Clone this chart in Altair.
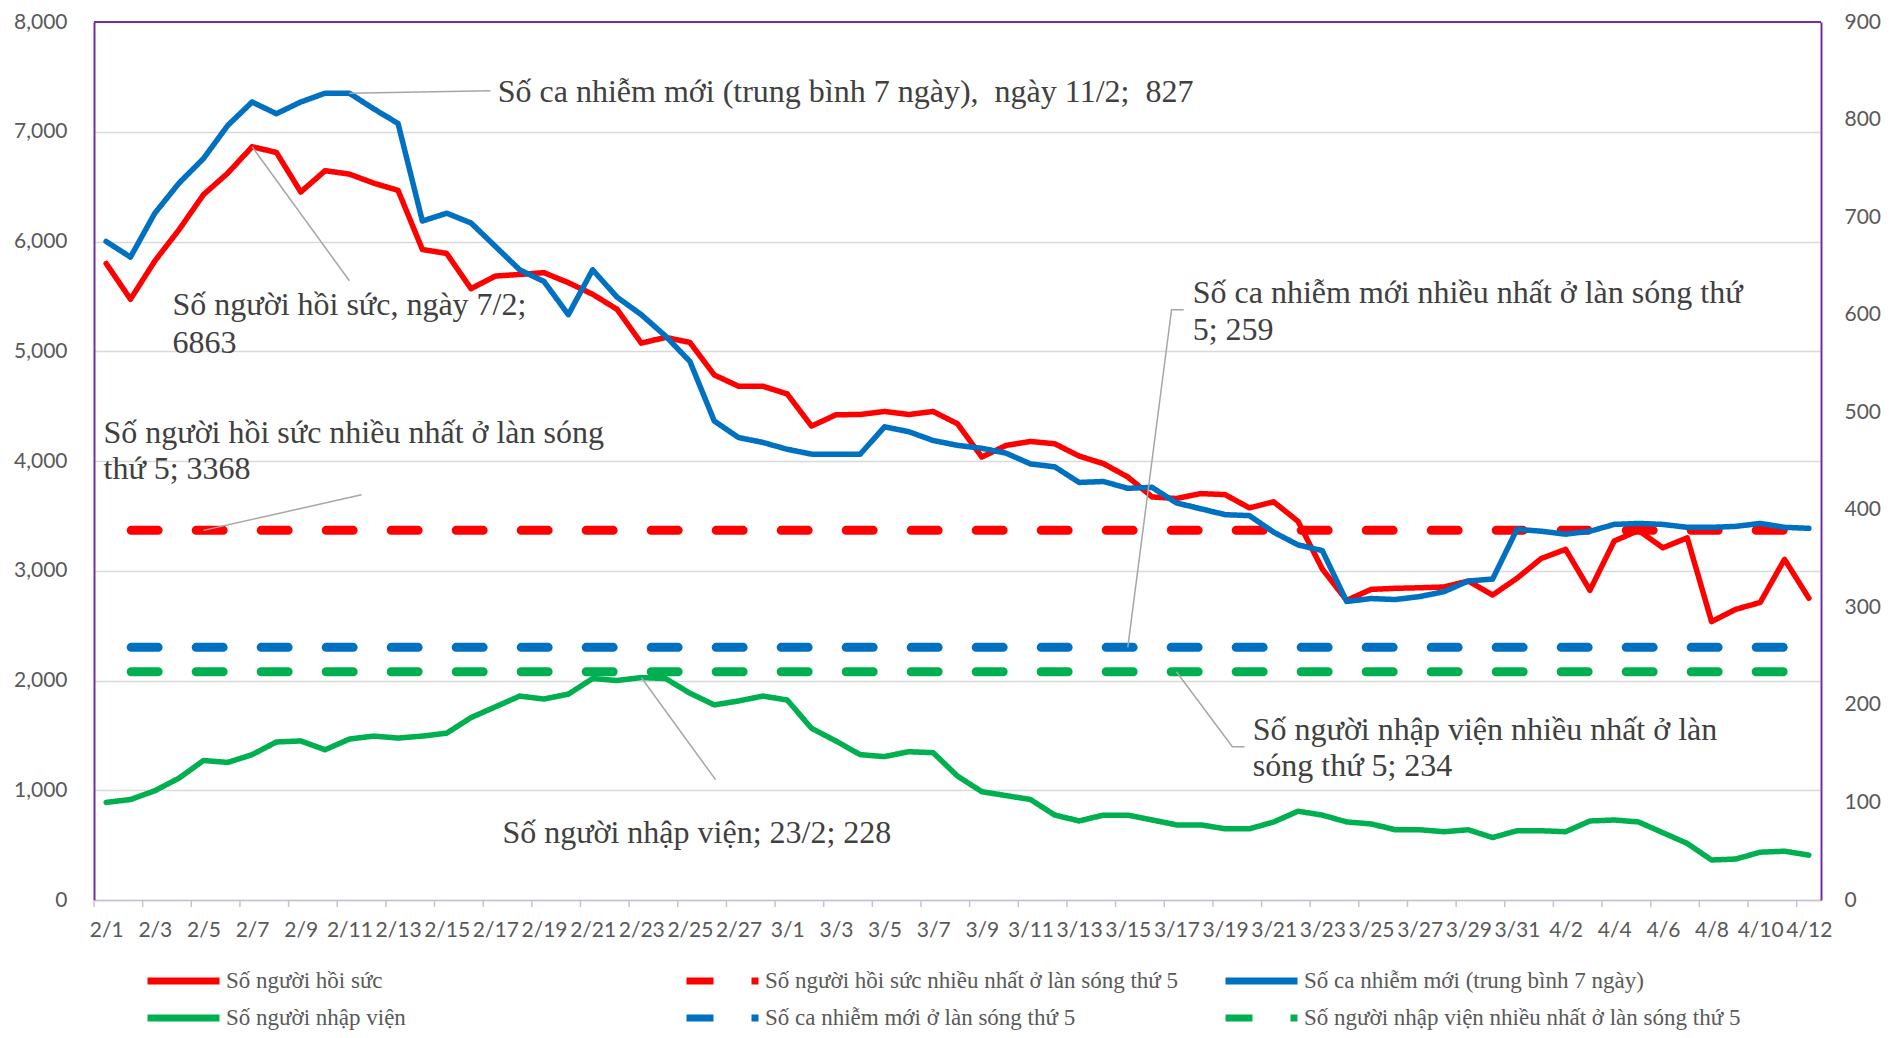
import json
import altair as alt
import pandas as pd

# ---------------- data ----------------
DATES = [f"{d.month}/{d.day}" for d in pd.date_range("2022-02-01", "2022-04-12")]

# Số người hồi sức (left axis)
ICU = [5800, 5474, 5822, 6109, 6427, 6623, 6863, 6811, 6451, 6645,
       6614, 6532, 6466, 5927, 5891, 5570, 5685, 5700, 5716, 5625,
       5519, 5383, 5074, 5126, 5080, 4784, 4681, 4681, 4611, 4318,
       4421, 4424, 4451, 4424, 4451, 4339, 4036, 4142, 4178, 4157,
       4045, 3976, 3855, 3673, 3658, 3703, 3694, 3573, 3628, 3450,
       3015, 2730, 2830, 2840, 2845, 2852, 2906, 2779, 2931, 3112,
       3195, 2822, 3271, 3367, 3209, 3300, 2537, 2649, 2711, 3104,
       2750]

# Số ca nhiễm mới (trung bình 7 ngày) (right axis)
CASES = [675, 659, 704, 735, 760, 794, 818, 806, 818, 827,
         827, 811, 796, 696, 704, 694, 670, 646, 634, 600,
         646, 618, 600, 578, 552, 491, 474, 469, 462, 457,
         457, 457, 485, 480, 471, 466, 463, 458, 447, 444,
         428, 429, 422, 423, 407, 401, 395, 394, 377, 364,
         358, 306, 309, 308, 311, 316, 327, 329, 380, 378,
         375, 378, 385, 386, 385, 382, 382, 383, 386, 382,
         381]

# Số người nhập viện (right axis)
HOSP = [100, 103, 112, 125, 143, 141, 149, 162, 163, 154,
        165, 168, 166, 168, 171, 187, 198, 209, 206, 211,
        227, 225, 228, 227, 212, 200, 204, 209, 205, 176,
        163, 149, 147, 152, 151, 127, 111, 107, 103, 87,
        81, 87, 87, 82, 77, 77, 73, 73, 80, 91,
        87, 80, 78, 72, 72, 70, 72, 64, 71, 71,
        70, 81, 82, 80, 69, 58, 41, 42, 49, 50,
        46]

ICU_MAX = 3368
CASES_MAX = 259
HOSP_MAX = 234

SERIES = [
    "Số người hồi sức",
    "Số người hồi sức nhiều nhất ở làn sóng thứ 5",
    "Số ca nhiễm mới (trung bình 7 ngày)",
    "Số người nhập viện",
    "Số ca nhiễm mới ở làn sóng thứ 5",
    "Số người nhập viện nhiều nhất ở làn sóng thứ 5",
]
COLORS = ["#FF0000", "#FF0000", "#0070C0", "#00B050", "#0070C0", "#00B050"]
DASHES = [[1, 0], [27, 38], [1, 0], [1, 0], [27, 38], [27, 38]]

NB = "\u00a0"
# annotation texts (anchor in index / left-axis units)
ANNOT_TEXT = [
    (16.1, 7361, "Số ca nhiễm mới (trung bình 7 ngày)," + NB + " ngày 11/2;" + NB + " 827"),
    (2.73, 5417, "Số người hồi sức, ngày 7/2;"),
    (2.73, 5079, "6863"),
    (-0.11, 4254, "Số người hồi sức nhiều nhất ở làn sóng"),
    (-0.11, 3923, "thứ 5; 3368"),
    (44.67, 5527, "Số ca nhiễm mới nhiều nhất ở làn sóng thứ"),
    (44.67, 5197, "5; 259"),
    (47.14, 1551, "Số người nhập viện nhiều nhất ở làn"),
    (47.14, 1220, "sóng thứ 5; 234"),
    (16.29, 608, "Số người nhập viện; 23/2; 228"),
]
LEADERS = [
    [(10.0, 7350), (15.8, 7374)],
    [(6.0, 6863), (10.0, 5642)],
    [(4.0, 3368), (10.5, 3692)],
    [(42.0, 2302), (43.8, 5379), (44.3, 5379)],
    [(44.0, 2080), (46.3, 1397), (46.8, 1397)],
    [(22.0, 2027), (25.05, 1097)],
]

# ---------------- frames ----------------
N = len(DATES)
idx = list(range(N))
df_left = pd.DataFrame({"idx": idx, "value": ICU, "series": SERIES[0]})
df_left_dash = pd.DataFrame({"idx": [0, N - 1], "value": [ICU_MAX] * 2, "series": SERIES[1]})
df_right = pd.concat([
    pd.DataFrame({"idx": idx, "value": CASES, "series": SERIES[2]}),
    pd.DataFrame({"idx": idx, "value": HOSP, "series": SERIES[3]}),
])
df_right_dash = pd.concat([
    pd.DataFrame({"idx": [0, N - 1], "value": [CASES_MAX] * 2, "series": SERIES[4]}),
    pd.DataFrame({"idx": [0, N - 1], "value": [HOSP_MAX] * 2, "series": SERIES[5]}),
])
df_ticks = pd.DataFrame({"idx": [i - 0.5 for i in range(0, N, 2)]})
df_top = pd.DataFrame({"idx": [0], "value": [8000]})
df_text = pd.DataFrame(ANNOT_TEXT, columns=["idx", "v", "text"])
rows = []
for g, pts in enumerate(LEADERS):
    for o, (x, y) in enumerate(pts):
        rows.append({"grp": g, "ord": o, "idx": x, "v": y})
df_lead = pd.DataFrame(rows)

# ---------------- encodings ----------------
W, H = 1727, 878
AXIS_FONT = "Lato"
AXIS_COLOR = "#595959"
PURPLE = "#7030A0"

xscale = alt.Scale(domain=[-0.5, N - 0.5], nice=False, zero=False)
xaxis = alt.Axis(
    values=list(range(0, N, 2)),
    labelExpr=json.dumps(DATES) + "[datum.value]",
    labelFont=AXIS_FONT, labelFontSize=21, labelColor=AXIS_COLOR,
    labelOverlap=False, labelFlush=False, labelBound=False, labelPadding=19,
    ticks=False, grid=False, domainColor="#C8C0D8", domainWidth=1.5, title=None,
)
X = alt.X("idx:Q", scale=xscale, axis=xaxis)

yl_axis = alt.Axis(
    values=list(range(0, 8001, 1000)), format=",d", orient="left",
    labelFont=AXIS_FONT, labelFontSize=21, labelColor=AXIS_COLOR, labelPadding=27,
    ticks=False, grid=True, gridColor="#D9D9D9", gridWidth=1.5,
    domainColor=PURPLE, domainWidth=2, title=None,
)
YL = alt.Y("value:Q", scale=alt.Scale(domain=[0, 8000], nice=False, zero=True), axis=yl_axis)

yr_axis = alt.Axis(
    values=list(range(0, 901, 100)), format="d", orient="right",
    labelFont=AXIS_FONT, labelFontSize=21, labelColor=AXIS_COLOR, labelPadding=23,
    ticks=False, grid=False, domainColor=PURPLE, domainWidth=2, title=None,
)
YR = alt.Y("value:Q", scale=alt.Scale(domain=[0, 900], nice=False, zero=True), axis=yr_axis)

LEG = alt.Legend(
    title=None, orient="none", legendX=50, legendY=947, columns=3, gridAlign="all",
    direction="horizontal",
    symbolType="stroke", symbolSize=5184, symbolStrokeWidth=7, clipHeight=24,
    labelFont="Liberation Serif", labelFontSize=23, labelColor="#595959",
    labelOffset=3, labelLimit=700, columnPadding=20, rowPadding=13,
)
COLOR = alt.Color("series:N", scale=alt.Scale(domain=SERIES, range=COLORS), legend=LEG)
DASH = alt.StrokeDash("series:N", scale=alt.Scale(domain=SERIES, range=DASHES), legend=LEG)

# ---------------- layers ----------------
ticks = alt.Chart(df_ticks).mark_rule(color="#C8C0D8", strokeWidth=1.5).encode(
    x=X, y=alt.value(H), y2=alt.value(H + 7))

left_dash = alt.Chart(df_left_dash).mark_line(
    strokeWidth=9, strokeCap="round", strokeDashOffset=40).encode(
    x=X, y=YL, color=COLOR, strokeDash=DASH)
left_line = alt.Chart(df_left).mark_line(
    strokeWidth=5.5, strokeCap="round", strokeJoin="round").encode(
    x=X, y=YL, color=COLOR, strokeDash=DASH)
top_rule = alt.Chart(df_top).mark_rule(color=PURPLE, strokeWidth=2).encode(y=YL)

left = alt.layer(ticks, left_dash, left_line, top_rule)

right_line = alt.Chart(df_right).mark_line(
    strokeWidth=5.5, strokeCap="round", strokeJoin="round").encode(
    x=X, y=YR, color=COLOR, strokeDash=DASH)
right_dash = alt.Chart(df_right_dash).mark_line(
    strokeWidth=9, strokeCap="round", strokeDashOffset=40).encode(
    x=X, y=YR, color=COLOR, strokeDash=DASH)
right = alt.layer(right_line, right_dash)

YA = alt.Y("v:Q", scale=alt.Scale(domain=[0, 8000], nice=False), axis=None)
leaders = alt.Chart(df_lead).mark_line(color="#A6A6A6", strokeWidth=1.5).encode(
    x=X, y=YA, detail="grp:N", order="ord:Q")
texts = alt.Chart(df_text).mark_text(
    align="left", baseline="middle", font="Liberation Serif", fontSize=32,
    color="#404040").encode(x=X, y=YA, text="text:N")
annot = alt.layer(leaders, texts)

chart = alt.layer(left, right, annot).resolve_scale(y="independent").properties(
    width=W, height=H,
    padding={"left": 86, "top": 14, "right": 68, "bottom": 130},
    autosize=alt.AutoSizeParams(type="none"),
).configure_view(stroke=None).configure(background="white")

chart.save("out.html", embed_options={"renderer": "svg", "actions": False})
